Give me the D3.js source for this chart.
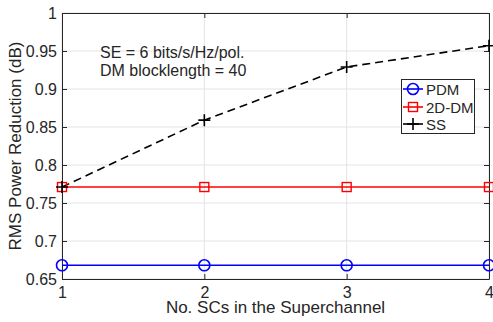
<!DOCTYPE html>
<html><head><meta charset="utf-8">
<script src="https://cdn.jsdelivr.net/npm/d3@7"></script>
<style>body{margin:0;background:#fff}svg{display:block}text{font-family:"Liberation Sans",Arial,sans-serif;fill:#262626}</style>
</head><body><svg id="c" width="493" height="322"></svg>
<script>
const xValues = [1, 2, 3, 4];
const pdm = [0.668, 0.668, 0.668, 0.668];
const dm2d = [0.771, 0.771, 0.771, 0.771];
const ss = [0.771, 0.859, 0.929, 0.957];
const yTicks = [0.65, 0.7, 0.75, 0.8, 0.85, 0.9, 0.95, 1];
const yTickLabels = ["0.65", "0.7", "0.75", "0.8", "0.85", "0.9", "0.95", "1"];
const seriesNames = ["PDM", "2D-DM", "SS"];

(function () {
const svg = d3.select("#c");
const L = 62, R = 489, T = 13, B = 279;
const x = d3.scaleLinear().domain([1, 4]).range([L, R]);
const y = d3.scaleLinear().domain([0.65, 1]).range([B, T]);
const ax = "#262626";

svg.append("rect").attr("x", L).attr("y", T).attr("width", R - L).attr("height", B - T).attr("fill", "#fff");
const g = svg.append("g");
g.selectAll(".gx").data(xValues).enter().append("line")
  .attr("x1", d => x(d)).attr("x2", d => x(d)).attr("y1", T).attr("y2", B)
  .attr("stroke", "#e3e3e3").attr("stroke-width", 1);
g.selectAll(".gy").data(yTicks).enter().append("line")
  .attr("y1", d => y(d)).attr("y2", d => y(d)).attr("x1", L).attr("x2", R)
  .attr("stroke", "#e3e3e3").attr("stroke-width", 1);

const tl = 5;
const axB = d3.axisBottom(x).tickValues(xValues).tickFormat(d3.format("d")).tickSizeInner(-tl).tickSizeOuter(0).tickPadding(8);
const axT = d3.axisTop(x).tickValues(xValues).tickFormat("").tickSizeInner(-tl).tickSizeOuter(0);
const axL = d3.axisLeft(y).tickValues(yTicks).tickFormat((d, i) => yTickLabels[i]).tickSizeInner(-tl).tickSizeOuter(0).tickPadding(5);
const axR = d3.axisRight(y).tickValues(yTicks).tickFormat("").tickSizeInner(-tl).tickSizeOuter(0);
function style(sel) {
  sel.selectAll("path").attr("stroke", ax).attr("stroke-width", 1);
  sel.selectAll("line").attr("stroke", ax).attr("stroke-width", 1);
  sel.selectAll("text").attr("font-size", 16).attr("fill", ax).attr("font-family", '"Liberation Sans",Arial,sans-serif');
}
svg.append("g").attr("transform", `translate(0,${B})`).call(axB).call(style);
svg.append("g").attr("transform", `translate(0,${T})`).call(axT).call(style);
svg.append("g").attr("transform", `translate(${L},0)`).call(axL).call(style);
svg.append("g").attr("transform", `translate(${R},0)`).call(axR).call(style);

const line = d3.line().x((d, i) => x(xValues[i])).y(d => y(d));
svg.append("path").datum(pdm).attr("d", line).attr("fill", "none").attr("stroke", "#0000ff").attr("stroke-width", 1.6);
svg.append("path").datum(dm2d).attr("d", line).attr("fill", "none").attr("stroke", "#ff0000").attr("stroke-width", 1.6);
svg.append("path").datum(ss).attr("d", line).attr("fill", "none").attr("stroke", "#000").attr("stroke-width", 1.6).attr("stroke-dasharray", "8,5");

function circle(sel, cx, cy) {
  sel.append("circle").attr("cx", cx).attr("cy", cy).attr("r", 5.5).attr("fill", "none").attr("stroke", "#0000ff").attr("stroke-width", 1.6);
}
function square(sel, cx, cy) {
  sel.append("rect").attr("x", cx - 4.5).attr("y", cy - 4.5).attr("width", 9).attr("height", 9).attr("fill", "none").attr("stroke", "#ff0000").attr("stroke-width", 1.4);
}
function plus(sel, cx, cy) {
  sel.append("path").attr("d", `M${cx - 6},${cy}H${cx + 6}M${cx},${cy - 6}V${cy + 6}`).attr("stroke", "#000").attr("stroke-width", 1.6);
}
pdm.forEach((v, i) => circle(svg, x(xValues[i]), y(v)));
dm2d.forEach((v, i) => square(svg, x(xValues[i]), y(v)));
ss.forEach((v, i) => plus(svg, x(xValues[i]), y(v)));

svg.append("text").attr("x", (L + R) / 2).attr("y", 313).attr("text-anchor", "middle").attr("font-size", 17).text("No. SCs in the Superchannel");
svg.append("text").attr("transform", `translate(21,${(T + B) / 2}) rotate(-90)`).attr("text-anchor", "middle").attr("font-size", 17).text("RMS Power Reduction (dB)");

svg.append("text").attr("x", 100).attr("y", 58).attr("font-size", 16).text("SE = 6 bits/s/Hz/pol.");
svg.append("text").attr("x", 100).attr("y", 76).attr("font-size", 16).text("DM blocklength = 40");

const lg = svg.append("g");
lg.append("rect").attr("x", 401.5).attr("y", 79.5).attr("width", 73).attr("height", 54).attr("fill", "#fff").attr("stroke", ax).attr("stroke-width", 1);
const rows = [89, 107, 124];
const colors = ["#0000ff", "#ff0000", "#000"];
const markers = [circle, square, plus];
rows.forEach((ry, i) => {
  lg.append("line").attr("x1", 403).attr("x2", 423).attr("y1", ry).attr("y2", ry).attr("stroke", colors[i]).attr("stroke-width", 1.6);
  markers[i](lg, 413, ry);
  lg.append("text").attr("x", 426).attr("y", ry + 5.5).attr("font-size", 15).text(seriesNames[i]);
});
})();
</script></body></html>
